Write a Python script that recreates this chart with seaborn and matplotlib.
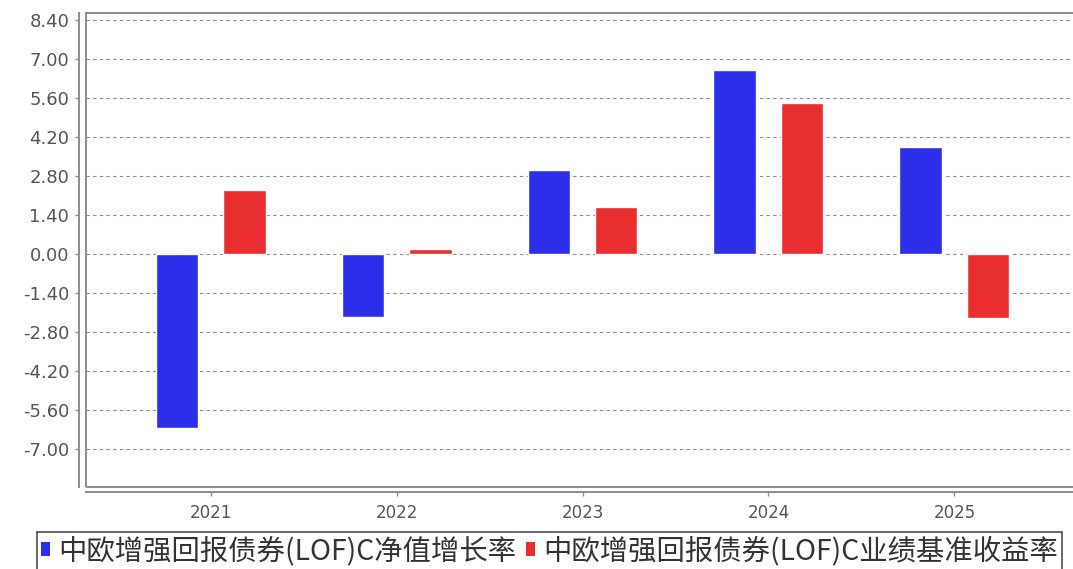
import numpy as np
import pandas as pd
import matplotlib
matplotlib.use('Agg')
import matplotlib.pyplot as plt
import matplotlib.patches as mpatches
import seaborn as sns

# Daten
years = ['2021', '2022', '2023', '2024', '2025']
nav_growth = [-6.25, -2.27, 3.01, 6.60, 3.85]
benchmark = [2.30, 0.20, 1.68, 5.43, -2.28]
series_names = ['中欧增强回报债券(LOF)C净值增长率', '中欧增强回报债券(LOF)C业绩基准收益率']

df = pd.DataFrame({
    'year': years * 2,
    'value': nav_growth + benchmark,
    'series': [series_names[0]] * len(years) + [series_names[1]] * len(years),
})

blue = '#2c2ee9'
red = '#e92e30'

sns.set_style('white')
plt.rcParams['font.family'] = ['Noto Sans CJK SC', 'DejaVu Sans']
plt.rcParams['axes.unicode_minus'] = False

fig = plt.figure(figsize=(10.73, 5.69), dpi=100)
ax = fig.add_axes([86 / 1073, 1 - 487 / 569, 993 / 1073, 474 / 569])

sns.barplot(data=df, x='year', y='value', hue='series', order=years,
            hue_order=series_names, palette=[blue, red], width=0.73, gap=0.38,
            saturation=1, legend=False, ax=ax, zorder=3)

ax.set_xlim(-0.67, 4.67)
ax.set_ylim(-8.35, 8.65)
yticks = np.round(np.arange(-7.0, 8.41, 1.4), 2)
ax.set_yticks(yticks)
ax.set_yticklabels([f'{t:.2f}' for t in yticks])
ax.yaxis.grid(True, linestyle=(0, (3, 3)), color='#8a8a8a', linewidth=0.8, zorder=0)
ax.set_axisbelow(True)
ax.set_xlabel('')
ax.set_ylabel('')

# Rahmen
for side in ['top', 'right']:
    ax.spines[side].set_visible(False)
ax.spines['left'].set_position(('outward', 5))
ax.spines['bottom'].set_position(('outward', 3.6))
for side in ['left', 'bottom']:
    ax.spines[side].set_color('#8c8c8c')
    ax.spines[side].set_linewidth(1.4)
ax.add_patch(mpatches.Rectangle((0, 0), 1, 1, transform=ax.transAxes, fill=False,
                                edgecolor='#8c8c8c', linewidth=1.4, clip_on=False, zorder=4))

ax.tick_params(axis='y', left=True, length=3, width=1, color='#8c8c8c',
               labelsize=13, labelcolor='#555555', pad=4)
ax.tick_params(axis='x', bottom=True, length=3, width=1, color='#8c8c8c',
               labelsize=12, labelcolor='#555555', pad=6)
for lbl in ax.get_yticklabels() + ax.get_xticklabels():
    lbl.set_fontfamily('DejaVu Sans')

# Legende
handles = [mpatches.Patch(facecolor=blue, edgecolor='none', label=series_names[0]),
           mpatches.Patch(facecolor=red, edgecolor='none', label=series_names[1])]
leg = fig.legend(handles=handles, loc='upper left', bbox_to_anchor=(37 / 1073, 1 - 532 / 569),
                 ncol=2, fontsize=20.4, frameon=True, fancybox=False, handlelength=0.3,
                 handleheight=0.42, handletextpad=0.3, columnspacing=0.35,
                 borderpad=0.15, borderaxespad=0)
leg.get_frame().set_edgecolor('#222222')
leg.get_frame().set_linewidth(1.2)
for t in leg.get_texts():
    t.set_color('#333333')

fig.savefig('out.png', dpi=100)
